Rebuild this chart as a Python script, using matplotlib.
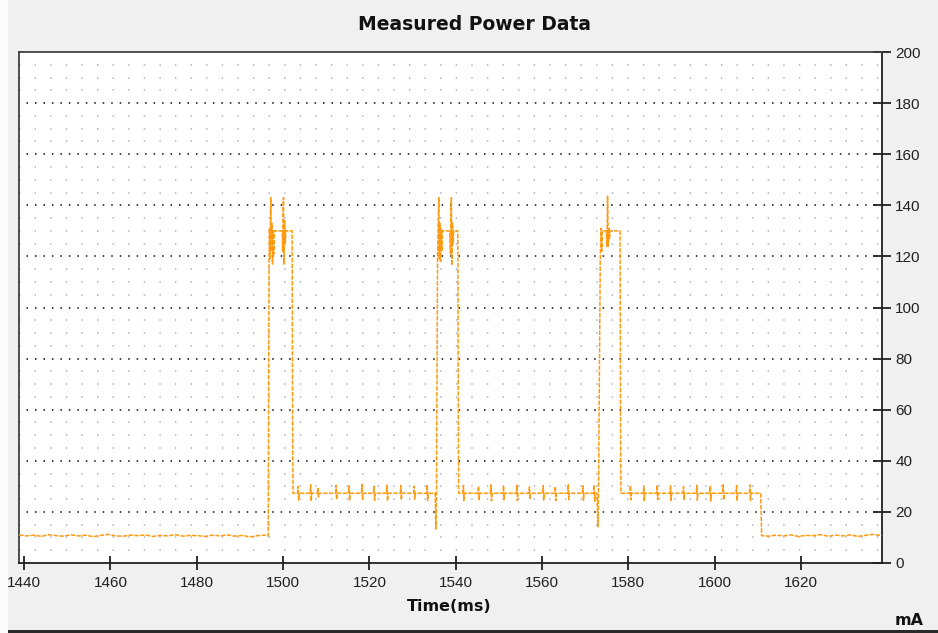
import matplotlib
matplotlib.use("Agg")
import matplotlib.pyplot as plt
from matplotlib.patches import Rectangle

plt.rcParams["lines.scale_dashes"] = False

# ---- measured trace (time in ms, current in mA) ----
idle_start_t = [1438.8, 1440.5, 1442.3, 1444.0, 1445.6, 1447.4, 1449.1, 1450.9, 1452.6,
                1454.2, 1456.0, 1457.7, 1459.5, 1461.2, 1462.9, 1464.6, 1466.4, 1468.1,
                1469.8, 1471.6, 1473.3, 1475.0, 1476.8, 1478.5, 1480.2, 1481.9, 1483.7,
                1485.4, 1487.1, 1488.9, 1490.6, 1492.3, 1494.1, 1495.8, 1496.4]
idle_start_ma = [11.0, 10.6, 10.9, 10.4, 11.1, 10.7, 10.5, 11.0, 10.6, 10.9, 10.3, 10.8,
                 11.2, 10.6, 10.5, 10.9, 10.7, 11.0, 10.4, 10.8, 10.6, 11.1, 10.5, 10.8,
                 10.7, 10.4, 10.9, 10.6, 11.0, 10.5, 10.8, 10.2, 10.7, 10.9, 10.6]

burst1_t = [1496.55, 1496.65, 1496.75, 1496.85, 1496.95, 1497.05, 1497.15, 1497.25, 1497.4,
            1497.55, 1497.7, 1497.85, 1498.0, 1499.8, 1499.9, 1500.0, 1500.1, 1500.2,
            1500.35, 1500.5, 1500.65, 1502.1, 1502.2]
burst1_ma = [10.6, 60.0, 118.0, 131.0, 119.0, 134.0, 143.0, 122.0, 133.0,
             117.0, 130.0, 121.0, 130.0, 130.0, 122.0, 138.0, 143.0, 117.0,
             134.0, 125.0, 130.0, 130.0, 60.0]

burst2_t = [1535.25, 1535.4, 1535.55, 1535.7, 1535.8, 1535.95, 1536.1, 1536.2, 1536.35,
            1536.5, 1536.65, 1536.8, 1536.95, 1538.6, 1538.8, 1538.9, 1539.0, 1539.1,
            1539.25, 1539.4, 1539.55, 1540.5, 1540.6]
burst2_ma = [27.3, 13.3, 27.0, 80.0, 120.0, 134.0, 143.0, 119.0, 133.0,
             118.0, 131.0, 122.0, 130.0, 130.0, 121.0, 138.0, 143.0, 116.5,
             133.0, 125.0, 130.0, 130.0, 60.0]

burst3_t = [1572.75, 1572.95, 1573.1, 1573.3, 1573.5, 1573.7, 1573.85, 1574.0, 1574.9,
            1575.05, 1575.2, 1575.35, 1575.5, 1575.65, 1575.8, 1578.1, 1578.2]
burst3_ma = [27.3, 14.2, 27.0, 70.0, 118.0, 131.0, 122.0, 130.0, 130.0,
             124.0, 143.6, 124.0, 131.0, 127.0, 130.0, 130.0, 60.0]

plateau_ma = 27.3
plateau1_span = (1502.3, 1535.1)
plateau1_spikes = [1503.5, 1506.4, 1508.1, 1512.3, 1515.3, 1518.3, 1521.1, 1524.1,
                   1527.3, 1530.4, 1533.4]
plateau1_hi = [30.0, 30.6, 29.2, 30.4, 30.2, 30.8, 30.0, 30.5, 30.3, 30.1, 30.6]
plateau1_lo = [24.6, 24.2, 25.8, 24.8, 24.4, 24.9, 24.5, 24.3, 24.7, 25.0, 24.4]

plateau2_span = (1540.7, 1572.6)
plateau2_spikes = [1541.8, 1545.3, 1548.2, 1551.1, 1554.2, 1557.1, 1560.3, 1563.1,
                   1566.1, 1569.5, 1572.1]
plateau2_hi = [30.4, 30.1, 30.6, 30.2, 30.5, 29.8, 30.3, 30.0, 30.7, 30.2, 30.5]
plateau2_lo = [24.5, 24.8, 24.3, 24.7, 24.4, 24.9, 24.6, 24.4, 24.8, 24.5, 24.2]

plateau3_span = (1578.3, 1610.7)
plateau3_spikes = [1580.5, 1583.6, 1586.7, 1589.8, 1592.8, 1595.9, 1599.0, 1602.0,
                   1605.1, 1608.2]
plateau3_hi = [30.3, 30.0, 30.5, 30.2, 29.9, 30.4, 30.1, 30.6, 30.2, 30.5]
plateau3_lo = [24.7, 24.4, 24.8, 24.5, 24.9, 24.6, 24.3, 24.7, 24.5, 24.4]

idle_end_t = [1610.9, 1612.5, 1614.2, 1615.9, 1617.7, 1619.4, 1621.1, 1622.9, 1624.6,
              1626.3, 1628.1, 1629.8, 1631.5, 1633.2, 1635.0, 1636.7, 1638.8]
idle_end_ma = [10.7, 10.5, 10.9, 10.6, 11.0, 10.4, 10.8, 10.7, 11.1, 10.5, 10.9, 10.6,
               11.0, 10.4, 10.8, 11.2, 10.7]

x_ticks = [1440, 1460, 1480, 1500, 1520, 1540, 1560, 1580, 1600, 1620]
y_ticks = [0, 20, 40, 60, 80, 100, 120, 140, 160, 180, 200]


def plateau_points(span, level, spikes, hi, lo):
    ts, vs = [span[0]], [level]
    for t, h, l in zip(spikes, hi, lo):
        ts += [t - 0.15, t, t + 0.1, t + 0.25]
        vs += [level, h, l, level]
    ts.append(span[1])
    vs.append(level)
    return ts, vs


time_ms, current_ma = [], []
segments = [
    (idle_start_t, idle_start_ma),
    (burst1_t, burst1_ma),
    plateau_points(plateau1_span, plateau_ma, plateau1_spikes, plateau1_hi, plateau1_lo),
    (burst2_t, burst2_ma),
    plateau_points(plateau2_span, plateau_ma, plateau2_spikes, plateau2_hi, plateau2_lo),
    (burst3_t, burst3_ma),
    plateau_points(plateau3_span, plateau_ma, plateau3_spikes, plateau3_hi, plateau3_lo),
    (idle_end_t, idle_end_ma),
]
for ts, vs in segments:
    time_ms += list(ts)
    current_ma += list(vs)

# ---- figure ----
W, H = 938, 633
fig = plt.figure(figsize=(W / 100, H / 100), dpi=100, facecolor="#f0f0f0")

# window frame: light strip on the left, dark edge at the bottom
fig.patches.append(Rectangle((0, 0), 8 / W, 1, transform=fig.transFigure,
                             facecolor="#fbfbfb", edgecolor="none", zorder=0))
fig.patches.append(Rectangle((8 / W, 0), 1, 3 / H, transform=fig.transFigure,
                             facecolor="#2a2a2a", edgecolor="none", zorder=0))

ax = fig.add_axes([19 / W, (H - 563) / H, (882 - 19) / W, (563 - 52) / H])
ax.set_facecolor("white")
ax.set_xlim(1438.8, 1638.8)
ax.set_ylim(0, 200)

# dotted horizontal grid: fine rows every 5 mA, bold rows every 20 mA
for y in range(5, 200, 5):
    if y % 20 == 0:
        ax.axhline(y, color="#303030", lw=1.3, linestyle=(0.7, (1.1, 5.0)),
                   dash_capstyle="butt", zorder=1)
    else:
        ax.axhline(y, color="#a3adc4", lw=1.1, linestyle=(0.0, (1.0, 10.23)),
                   dash_capstyle="butt", zorder=1)

ax.plot(time_ms, current_ma, color="#ff9a10", lw=1.1,
        linestyle=(0, (3.2, 1.0)), zorder=3)

for side in ["left", "top", "right", "bottom"]:
    ax.spines[side].set_linewidth(1.3)
ax.spines["left"].set_color("#404040")
ax.spines["top"].set_color("#404040")
ax.spines["right"].set_color("#202020")
ax.spines["bottom"].set_color("#202020")

ax.set_xticks(x_ticks)
ax.set_yticks(y_ticks)
ax.yaxis.tick_right()
ax.tick_params(axis="both", direction="inout", width=1.3, color="#202020",
               labelsize=11, labelcolor="#202020")
ax.tick_params(axis="x", length=10.5, pad=4)
ax.tick_params(axis="y", length=13, pad=3)
for lab in ax.get_xticklabels() + ax.get_yticklabels():
    lab.set_fontfamily("Liberation Sans")

fig.text(474 / W, 1 - 30.3 / H, "Measured Power Data", ha="center", va="baseline",
         fontsize=13.5, fontweight="bold", family="DejaVu Sans", color="#111111")
fig.text(449 / W, 1 - 611 / H, "Time(ms)", ha="center", va="baseline",
         fontsize=11.5, fontweight="bold", family="DejaVu Sans", color="#111111")
fig.text(895 / W, 1 - 625 / H, "mA", ha="left", va="baseline",
         fontsize=11.5, fontweight="bold", family="DejaVu Sans", color="#111111")

fig.savefig("out.png", dpi=100, facecolor=fig.get_facecolor())
